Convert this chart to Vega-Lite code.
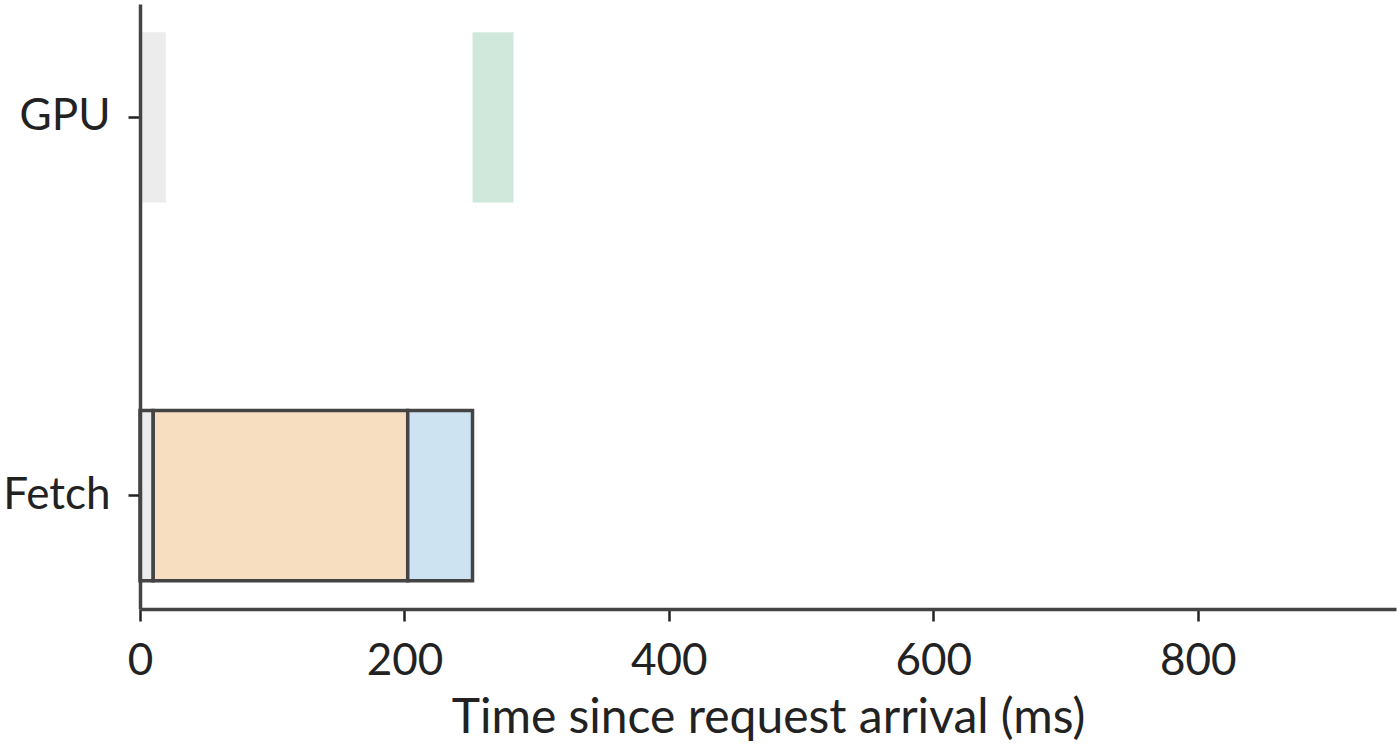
{
  "$schema": "https://vega.github.io/schema/vega-lite/v6.json",
  "width": 1256,
  "height": 605,
  "autosize": "none",
  "padding": {"left": 140, "top": 4, "right": 4, "bottom": 142},
  "background": "white",
  "data": {
    "values": [
      {"resource": "GPU", "phase": "Queued", "start": 0, "end": 19.5},
      {"resource": "GPU", "phase": "Compute", "start": 251.5, "end": 282.5},
      {"resource": "Fetch", "phase": "Queued", "start": 0, "end": 10},
      {"resource": "Fetch", "phase": "Download", "start": 10, "end": 202.5},
      {"resource": "Fetch", "phase": "Decode", "start": 202.5, "end": 251.5}
    ]
  },
  "encoding": {
    "y": {
      "field": "resource",
      "type": "nominal",
      "sort": ["GPU", "Fetch"],
      "scale": {"paddingInner": 0.55, "paddingOuter": 0.075},
      "axis": {
        "title": null,
        "labelFont": "Lato",
        "labelFontSize": 44,
        "labelColor": "#222222",
        "labelPadding": 18,
        "tickSize": 12,
        "tickWidth": 2.5,
        "tickColor": "#222222",
        "domainColor": "#444444",
        "domainWidth": 3.5,
        "zindex": 1
      }
    },
    "x": {
      "field": "start",
      "type": "quantitative",
      "scale": {"domain": [0, 950], "nice": false},
      "axis": {
        "title": "Time since request arrival (ms)",
        "values": [0, 200, 400, 600, 800],
        "grid": false,
        "labelFlush": false,
        "labelFont": "Lato",
        "labelFontSize": 44,
        "labelColor": "#222222",
        "labelPadding": 18,
        "tickSize": 12,
        "tickWidth": 2.5,
        "tickColor": "#222222",
        "domainColor": "#444444",
        "domainWidth": 3.5,
        "titleFont": "Lato",
        "titleFontSize": 48,
        "titleFontWeight": "normal",
        "titleColor": "#222222",
        "titlePadding": 11,
        "zindex": 1
      }
    },
    "x2": {"field": "end"},
    "color": {
      "field": "phase",
      "type": "nominal",
      "legend": null,
      "scale": {
        "domain": ["Queued", "Download", "Decode", "Compute"],
        "range": ["#ececec", "#f7dec0", "#cde3f2", "#d0e8dc"]
      }
    }
  },
  "layer": [
    {
      "transform": [{"filter": "datum.resource === 'GPU'"}],
      "mark": {"type": "bar", "opacity": 1}
    },
    {
      "transform": [{"filter": "datum.resource === 'Fetch'"}],
      "mark": {"type": "bar", "opacity": 1, "stroke": "#444444", "strokeWidth": 3.5}
    }
  ],
  "config": {"view": {"stroke": null}}
}
